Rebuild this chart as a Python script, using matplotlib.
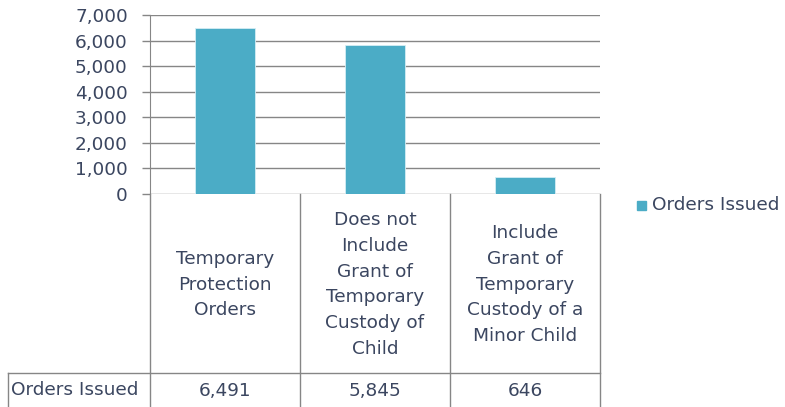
import matplotlib.pyplot as plt
from matplotlib.patches import Rectangle
from matplotlib.lines import Line2D

categories = ["Temporary\nProtection\nOrders",
              "Does not\nInclude\nGrant of\nTemporary\nCustody of\nChild",
              "Include\nGrant of\nTemporary\nCustody of a\nMinor Child"]
orders_issued = [6491, 5845, 646]
series_name = "Orders Issued"
yticks = [0, 1000, 2000, 3000, 4000, 5000, 6000, 7000]

bar_color = "#4bacc6"
grid_color = "#868686"
text_color = "#3b4660"
fs = 13.3
plt.rcParams['font.family'] = ['DejaVu Sans']

W, H = 785, 407
fig = plt.figure(figsize=(W / 100, H / 100), dpi=100)

# plot area in pixels
x0, x1 = 150, 600
y_top, y_zero = 15, 194
ax = fig.add_axes([x0 / W, 1 - y_zero / H, (x1 - x0) / W, (y_zero - y_top) / H])

n = len(categories)
ax.bar(range(n), orders_issued, width=0.4, color=bar_color,
       edgecolor="#d5eef5", linewidth=0.6, zorder=3)
ax.set_xlim(-0.5, n - 0.5)
ax.set_ylim(0, 7000)
ax.set_yticks(yticks)
ax.set_yticklabels([f"{v:,}" for v in yticks], fontsize=fs, color=text_color)
ax.tick_params(axis='y', length=6, width=1, color=grid_color, pad=10)
ax.tick_params(axis='x', length=0, labelbottom=False)
ax.grid(axis='y', color=grid_color, linewidth=1, zorder=0)
for s in ['top', 'right', 'bottom']:
    ax.spines[s].set_visible(False)
ax.spines['left'].set_color(grid_color)

# data table drawn below the axis
def fx(px):
    return px / W

def fy(py):
    return 1 - py / H

cell_w = (x1 - x0) / n
row_split = 373
lines = []
for i in range(n + 1):
    xp = x0 + i * cell_w
    lines.append(([fx(xp), fx(xp)], [fy(y_zero), fy(H + 2)]))
lines.append(([fx(8), fx(x1)], [fy(row_split), fy(row_split)]))
lines.append(([fx(8), fx(8)], [fy(row_split), fy(H + 2)]))
for xs, ys in lines:
    fig.add_artist(Line2D(xs, ys, color=grid_color, linewidth=1))

for i, (cat, val) in enumerate(zip(categories, orders_issued)):
    cx = x0 + (i + 0.5) * cell_w
    fig.text(fx(cx), fy((y_zero + row_split) / 2 + 1), cat, ha='center', va='center',
             fontsize=fs, color=text_color, linespacing=1.55)
    fig.text(fx(cx), fy(391), f"{val:,}", ha='center', va='center',
             fontsize=fs, color=text_color)
fig.text(fx(11), fy(390), series_name, ha='left', va='center',
         fontsize=fs, color=text_color)

# legend
fig.add_artist(Rectangle((fx(637), fy(210)), 9 / W, 9 / H, transform=fig.transFigure,
                         color=bar_color))
fig.text(fx(652), fy(205), series_name, ha='left', va='center',
         fontsize=fs, color=text_color)

fig.savefig("out.png", dpi=100)
